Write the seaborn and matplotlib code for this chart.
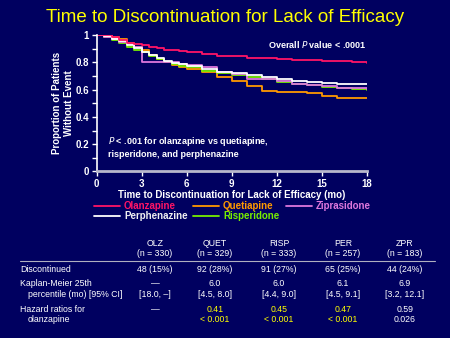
import matplotlib
matplotlib.use("Agg")
import matplotlib.pyplot as plt
from matplotlib.lines import Line2D
import seaborn as sns
import pandas as pd

sns.set_theme(style="ticks")
plt.rcParams["font.family"] = ["Liberation Sans", "DejaVu Sans"]

BG = "#000060"

# ---------------- data ----------------
months = [0, 0.5, 1, 1.5, 2, 2.5, 3, 3.5, 4, 4.5, 5, 5.5, 6, 7, 8, 9, 10, 11, 12, 13, 14, 15, 16, 17, 18]
olanzapine = [1, 1, 0.99, 0.965, 0.945, 0.935, 0.925, 0.915, 0.905, 0.895, 0.89, 0.885, 0.88, 0.865, 0.85, 0.85,
              0.835, 0.83, 0.825, 0.82, 0.82, 0.81, 0.81, 0.80, 0.795]
quetiapine = [1, 0.995, 0.99, 0.97, 0.945, 0.915, 0.89, 0.855, 0.825, 0.80, 0.78, 0.77, 0.755, 0.73, 0.695, 0.665,
              0.625, 0.59, 0.58, 0.58, 0.575, 0.55, 0.54, 0.54, 0.54]
risperidone = [1, 0.99, 0.965, 0.94, 0.915, 0.895, 0.875, 0.85, 0.825, 0.805, 0.79, 0.775, 0.765, 0.74, 0.72, 0.705,
               0.69, 0.675, 0.655, 0.645, 0.635, 0.62, 0.615, 0.605, 0.60]
perphenazine = [1, 0.995, 0.975, 0.955, 0.93, 0.905, 0.88, 0.855, 0.83, 0.81, 0.795, 0.79, 0.775, 0.75, 0.73, 0.72,
                0.705, 0.69, 0.675, 0.665, 0.66, 0.65, 0.645, 0.64, 0.64]
ziprasidone = [1, 0.99, 0.975, 0.95, 0.935, 0.915, 0.80, 0.80, 0.80, 0.80, 0.80, 0.79, 0.785, 0.77, 0.73, 0.715,
               0.68, 0.675, 0.665, 0.645, 0.635, 0.625, 0.615, 0.61, 0.605]

series_names = ["Olanzapine", "Quetiapine", "Ziprasidone", "Perphenazine", "Risperidone"]
series_values = [olanzapine, quetiapine, ziprasidone, perphenazine, risperidone]
series_colors = ["#FF1466", "#FF9900", "#DD77DD", "#FFFFFF", "#77EE00"]
legend_text_colors = ["#FF1466", "#FF9900", "#DD77DD", "#F0F0F0", "#77EE00"]

x_ticks = [0, 3, 6, 9, 12, 15, 18]
y_ticks = [0, 0.2, 0.4, 0.6, 0.8, 1]
y_tick_labels = ["0", "0.2", "0.4", "0.6", "0.8", "1"]

table_cols = ["OLZ", "QUET", "RISP", "PER", "ZPR"]
table_n = ["(n = 330)", "(n = 329)", "(n = 333)", "(n = 257)", "(n = 183)"]
discontinued = ["48 (15%)", "92 (28%)", "91 (27%)", "65 (25%)", "44 (24%)"]
km25 = ["\u2014", "6.0", "6.0", "6.1", "6.9"]
km25_ci = ["[18.0, \u2013]", "[4.5, 8.0]", "[4.4, 9.0]", "[4.5, 9.1]", "[3.2, 12.1]"]
hazard = ["\u2014", "0.41", "0.45", "0.47", "0.59"]
hazard_p = ["", "< 0.001", "< 0.001", "< 0.001", "0.026"]
hazard_sig = [False, True, True, True, False]

# ---------------- figure ----------------
W, H = 450, 338
fig = plt.figure(figsize=(4.5, 3.38), dpi=100, facecolor=BG)

def fx(px):
    return px / W

def fy(py):
    return 1 - py / H

ax = fig.add_axes([fx(96.7), fy(171.3), fx(366.7) - fx(96.7), fy(35.3) - fy(171.3)])
ax.set_facecolor(BG)

frames = []
for name, vals in zip(series_names, series_values):
    frames.append(pd.DataFrame({"month": months, "surv": vals, "drug": name}))
df = pd.concat(frames, ignore_index=True)

draw_order = ["Quetiapine", "Risperidone", "Ziprasidone", "Perphenazine", "Olanzapine"]
for name in draw_order:
    i = series_names.index(name)
    sub = df[df["drug"] == name]
    sns.lineplot(data=sub, x="month", y="surv", ax=ax, color=series_colors[i],
                 drawstyle="steps-post", linewidth=1.3, estimator=None, legend=False)

ax.set_xlim(0, 18)
ax.set_ylim(0, 1)
ax.set_xticks(x_ticks)
ax.set_xticklabels([str(t) for t in x_ticks])
ax.set_yticks(y_ticks)
ax.set_yticklabels(y_tick_labels)
ax.set_yticks([0.1, 0.3, 0.5, 0.7, 0.9], minor=True)
ax.tick_params(axis="both", colors="white", labelcolor="white", labelsize=7, width=1, length=3.5, pad=2)
ax.tick_params(axis="y", which="minor", colors="white", width=1, length=3.5)
for lab in ax.get_xticklabels() + ax.get_yticklabels():
    lab.set_fontweight("bold")
for s in ["top", "right"]:
    ax.spines[s].set_visible(False)
ax.spines["left"].set_color("white")
ax.spines["left"].set_linewidth(1.2)
ax.spines["bottom"].set_color("#B8B8CC")
ax.spines["bottom"].set_linewidth(2)
ax.set_xlabel("Time to Discontinuation for Lack of Efficacy (mo)", color="white", fontsize=7,
              fontweight="bold", labelpad=1)
ax.set_ylabel("Proportion of Patients\nWithout Event", color="white", fontsize=7,
              fontweight="bold", labelpad=1, linespacing=1.3)

ax.text(1.0, 0.93, "Overall $\\bf{\\it{P}}$ value < .0001", transform=ax.transAxes, ha="right",
        va="center", color="white", fontsize=6.5, fontweight="bold")
ax.text(0.04, 0.18, "$\\bf{\\it{P}}$ < .001 for olanzapine vs quetiapine,\nrisperidone, and perphenazine",
        transform=ax.transAxes, ha="left", va="center", color="white", fontsize=6.5,
        fontweight="bold", linespacing=1.25)

# title
fig.text(0.5, fy(17), "Time to Discontinuation for Lack of Efficacy", ha="center", va="center",
         color="#FFFF00", fontsize=13.5)

# legend (manual)
leg_pos = {
    "Olanzapine": (94, 206), "Quetiapine": (193, 206), "Ziprasidone": (286, 206),
    "Perphenazine": (94, 215.7), "Risperidone": (193, 215.7),
}
for i, name in enumerate(series_names):
    x0, y0 = leg_pos[name]
    fig.add_artist(Line2D([fx(x0), fx(x0 + 26)], [fy(y0), fy(y0)], color=series_colors[i], lw=1.3))
    fig.text(fx(x0 + 30), fy(y0), name, color=legend_text_colors[i], fontsize=7, fontweight="bold",
             ha="left", va="center")

# table
col_x = [155, 215, 279, 343, 405]
fs = 6.3
for cx, c, n in zip(col_x, table_cols, table_n):
    fig.text(fx(cx), fy(243.3), c, color="white", fontsize=fs, ha="center", va="center")
    fig.text(fx(cx), fy(254), n, color="white", fontsize=fs, ha="center", va="center")
fig.add_artist(Line2D([fx(20), fx(435)], [fy(260.7), fy(260.7)], color="#B0B0C0", lw=0.8))

fig.text(fx(20), fy(269), "Discontinued", color="white", fontsize=fs, ha="left", va="center")
fig.text(fx(20), fy(283.3), "Kaplan-Meier 25th", color="white", fontsize=fs, ha="left", va="center")
fig.text(fx(28), fy(294.3), "percentile (mo) [95% CI]", color="white", fontsize=fs, ha="left", va="center")
fig.text(fx(20), fy(309.3), "Hazard ratios for", color="white", fontsize=fs, ha="left", va="center")
fig.text(fx(28), fy(320), "olanzapine", color="white", fontsize=fs, ha="left", va="center")

for j, cx in enumerate(col_x):
    fig.text(fx(cx), fy(269), discontinued[j], color="white", fontsize=fs, ha="center", va="center")
    fig.text(fx(cx), fy(283.3), km25[j], color="white", fontsize=fs, ha="center", va="center")
    fig.text(fx(cx), fy(294.3), km25_ci[j], color="white", fontsize=fs, ha="center", va="center")
    col = "#FFFF00" if hazard_sig[j] else "white"
    fig.text(fx(cx), fy(309.3), hazard[j], color=col, fontsize=fs, ha="center", va="center")
    if hazard_p[j]:
        fig.text(fx(cx), fy(320), hazard_p[j], color=col, fontsize=fs, ha="center", va="center")

fig.savefig("out.png", dpi=100, facecolor=BG)
